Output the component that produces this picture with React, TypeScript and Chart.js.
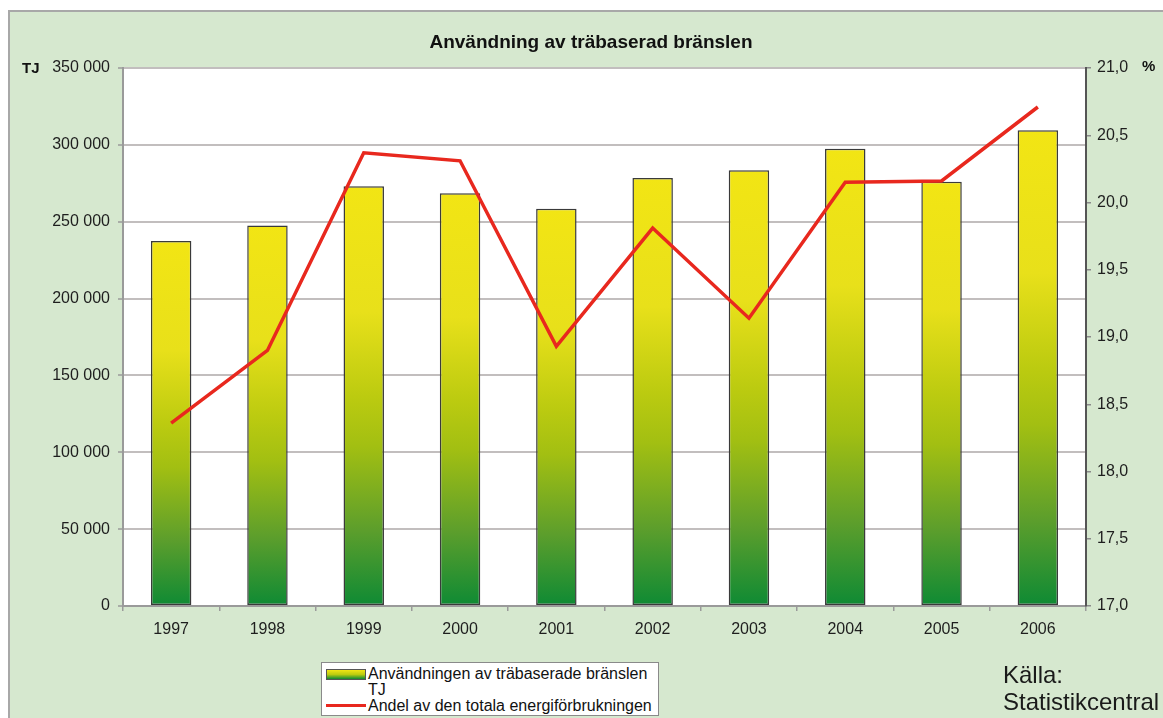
import React, { useEffect, useRef } from "react";
import { Chart, registerables } from "chart.js";

Chart.register(...registerables);

const years = ["1997", "1998", "1999", "2000", "2001", "2002", "2003", "2004", "2005", "2006"];
const woodFuelTJ = [237500, 247500, 273000, 268500, 258500, 278500, 283500, 297500, 276000, 309500];
const sharePercent = [18.36, 18.9, 20.37, 20.31, 18.93, 19.81, 19.14, 20.15, 20.16, 20.71];

const titleText = "Användning av träbaserad bränslen";
const leftUnit = "TJ";
const rightUnit = "%";
const barLabel = "Användningen av träbaserade bränslen";
const barLabel2 = "TJ";
const lineLabel = "Andel av den totala energiförbrukningen";
const sourceLines = ["Källa:", "Statistikcentral"];

const FONT = "'Liberation Sans', Arial, sans-serif";

function fmtThousands(v: number): string {
  const s = Math.round(v).toString();
  return s.replace(/\B(?=(\d{3})+(?!\d))/g, " ");
}

export default function App() {
  const ref = useRef<HTMLCanvasElement | null>(null);

  useEffect(() => {
    const canvas = ref.current;
    if (!canvas) return;

    const bgPlugin = {
      id: "plotBg",
      beforeDraw(chart: any) {
        const { ctx, chartArea } = chart;
        if (!chartArea) return;
        ctx.save();
        ctx.fillStyle = "#ffffff";
        ctx.fillRect(chartArea.left, chartArea.top, chartArea.right - chartArea.left, chartArea.bottom - chartArea.top);
        ctx.restore();
      },
    };

    const tickFont = { family: FONT, size: 16 };

    const chart = new Chart(canvas, {
      type: "bar",
      data: {
        labels: years,
        datasets: [
          {
            type: "line",
            label: lineLabel,
            data: sharePercent,
            yAxisID: "y2",
            borderColor: "#e8281e",
            backgroundColor: "#e8281e",
            borderWidth: 3.5,
            pointRadius: 0,
            tension: 0,
            order: 0,
          } as any,
          {
            type: "bar",
            label: barLabel,
            data: woodFuelTJ,
            yAxisID: "y",
            borderColor: "#3a3a3a",
            borderWidth: 1.5,
            borderSkipped: false,
            barPercentage: 0.42,
            categoryPercentage: 1,
            order: 1,
            backgroundColor: (c: any) => {
              const chart = c.chart;
              const scales = chart.scales;
              if (c.type !== "data" || !scales || !scales.y || !chart.chartArea) return "#d8d818";
              const yTop = scales.y.getPixelForValue(c.raw);
              const yBot = scales.y.getPixelForValue(0);
              const g = chart.ctx.createLinearGradient(0, yTop, 0, yBot);
              g.addColorStop(0, "#f2e514");
              g.addColorStop(0.3, "#e8e01a");
              g.addColorStop(0.5, "#bccb10");
              g.addColorStop(0.62, "#a2bf12");
              g.addColorStop(0.82, "#5c9e2c");
              g.addColorStop(1, "#0e8a34");
              return g;
            },
          } as any,
        ],
      },
      options: {
        responsive: false,
        animation: false,
        maintainAspectRatio: false,
        layout: { padding: { left: 0, right: 0, top: 68, bottom: 0 } },
        plugins: {
          legend: { display: false },
          title: { display: false },
          tooltip: { enabled: false },
        },
        scales: {
          x: {
            offset: true,
            grid: {
              offset: true,
              drawOnChartArea: false,
              drawTicks: true,
              tickLength: 5,
              color: "#9a9a9a",
              lineWidth: 1.5,
            },
            border: { display: true, color: "#9a9a9a", width: 2 },
            ticks: {
              color: "#1e1e1e",
              font: tickFont,
              padding: 9,
              maxRotation: 0,
            },
            afterFit(scale: any) {
              scale.height = 112;
            },
          },
          y: {
            position: "left",
            min: 0,
            max: 350000,
            ticks: {
              stepSize: 50000,
              color: "#1e1e1e",
              font: tickFont,
              padding: 8,
              callback: (v: any) => fmtThousands(Number(v)),
            },
            grid: {
              color: "#c2bebe",
              lineWidth: 2,
              drawTicks: true,
              tickLength: 5,
              tickColor: "#9a9a9a",
              tickWidth: 1.5,
            },
            border: { display: true, color: "#9a9a9a", width: 2 },
            afterFit(scale: any) {
              scale.width = 123;
            },
          },
          y2: {
            position: "right",
            min: 17,
            max: 21,
            ticks: {
              stepSize: 0.5,
              color: "#1e1e1e",
              font: tickFont,
              padding: 6,
              callback: (v: any) => Number(v).toFixed(1).replace(".", ","),
            },
            grid: {
              drawOnChartArea: false,
              drawTicks: true,
              tickLength: 5,
              color: "#8a8a8a",
              lineWidth: 1.5,
            },
            border: { display: true, color: "#555", width: 2 },
            afterFit(scale: any) {
              scale.width = 77;
            },
          },
        },
      } as any,
      plugins: [bgPlugin],
    });

    return () => chart.destroy();
  }, []);

  const txt: React.CSSProperties = { position: "absolute", fontFamily: FONT, color: "#111", whiteSpace: "nowrap" };

  return (
    <div style={{ position: "absolute", left: 0, top: 0, width: 1163, height: 718, overflow: "hidden", background: "#ffffff" }}>
      <div
        style={{
          position: "absolute",
          left: 8,
          top: 10,
          width: 1200,
          height: 800,
          background: "#d6e8cf",
          borderLeft: "2px solid #a8a8a8",
          borderTop: "2px solid #a8a8a8",
        }}
      />
      <canvas ref={ref} width={1163} height={718} style={{ position: "absolute", left: 0, top: 0, width: 1163, height: 718 }} />
      <div style={{ ...txt, left: 291, width: 600, top: 31, lineHeight: "22px", textAlign: "center", fontWeight: "bold", fontSize: 19 }}>{titleText}</div>
      <div style={{ ...txt, left: 22, top: 59, lineHeight: "18px", fontWeight: "bold", fontSize: 15 }}>{leftUnit}</div>
      <div style={{ ...txt, left: 1142, top: 57, lineHeight: "18px", fontWeight: "bold", fontSize: 15 }}>{rightUnit}</div>
      <div
        style={{
          position: "absolute",
          left: 321,
          top: 662,
          width: 338,
          height: 54,
          background: "#ffffff",
          border: "1px solid #8a8a8a",
          boxSizing: "border-box",
        }}
      >
        <div
          style={{
            position: "absolute",
            left: 4,
            top: 6,
            width: 40,
            height: 11,
            background: "linear-gradient(#f2e514, #bccb10 50%, #0e8a34)",
            border: "1px solid #555",
            boxSizing: "border-box",
          }}
        />
        <div style={{ ...txt, left: 46, top: 2, fontSize: 16, lineHeight: "17px" }}>{barLabel}</div>
        <div style={{ ...txt, left: 46, top: 18, fontSize: 16, lineHeight: "17px" }}>{barLabel2}</div>
        <div style={{ position: "absolute", left: 4, top: 41, width: 40, height: 3, background: "#e8281e" }} />
        <div style={{ ...txt, left: 46, top: 34, fontSize: 16, lineHeight: "17px" }}>{lineLabel}</div>
      </div>
      <div style={{ ...txt, left: 1003, top: 661, fontSize: 24, lineHeight: "27px", color: "#1a1a1a" }}>
        {sourceLines[0]}
        <br />
        {sourceLines[1]}
      </div>
    </div>
  );
}
